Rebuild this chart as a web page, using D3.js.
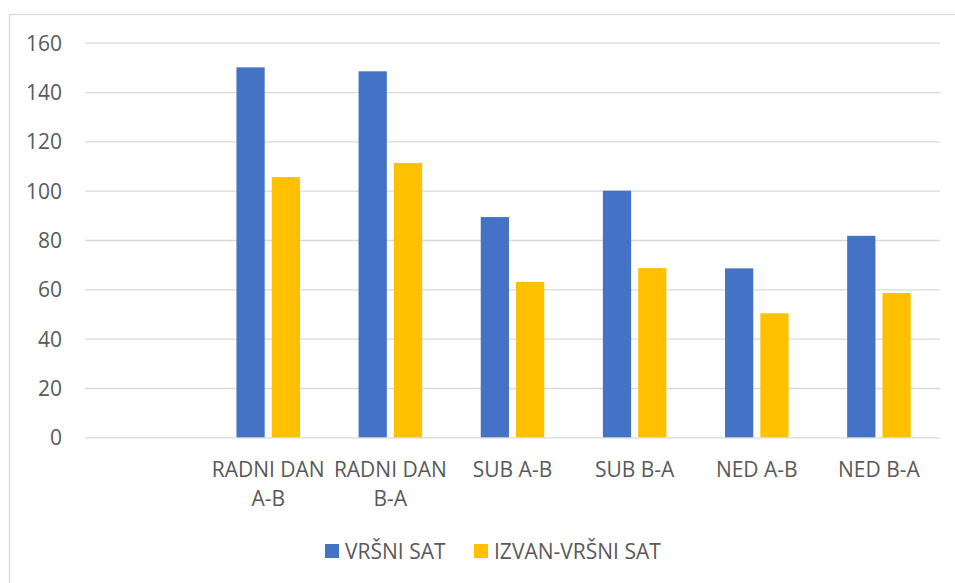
<!DOCTYPE html>
<html>
<head>
<meta charset="utf-8">
<script src="https://cdn.jsdelivr.net/npm/d3@7"></script>
<style>
  html, body { margin: 0; padding: 0; background: #fff; }
  svg { display: block; }
  text { font-family: "Open Sans", "Noto Sans", sans-serif; fill: #595959; }
</style>
</head>
<body>
<script>
// Categories (first slot is intentionally empty, as in the source workbook)
const categories = ["", "RADNI DAN\nA-B", "RADNI DAN\nB-A", "SUB A-B", "SUB B-A", "NED A-B", "NED B-A"];
const seriesNames = ["VRŠNI SAT", "IZVAN-VRŠNI SAT"];
const peakValues    = [null, 150, 148.4, 89.3, 100, 68.5, 81.7];
const offPeakValues = [null, 105.5, 111.2, 63, 68.6, 50.3, 58.5];
const yTicks = [0, 20, 40, 60, 80, 100, 120, 140, 160];
const colors = ["#4472C4", "#FFC000"];

const W = 955, H = 583;
const plot = { left: 85, right: 940, top: 42.7, bottom: 437.3 };
const FS = 21;

const svg = d3.select("body").append("svg").attr("width", W).attr("height", H);

svg.append("rect").attr("width", W).attr("height", H).attr("fill", "#fff");

// chart area outline
svg.append("rect")
  .attr("x", 9.5).attr("y", 14.5)
  .attr("width", 960).attr("height", 600)
  .attr("fill", "none").attr("stroke", "#d9d9d9").attr("stroke-width", 1.2);

const x0 = d3.scaleBand().domain(d3.range(categories.length))
  .range([plot.left, plot.right]).padding(0);
const x1 = d3.scaleBand().domain(d3.range(seriesNames.length))
  .range([0, x0.bandwidth()]).paddingInner(0.2).paddingOuter(0.83);
const y = d3.scaleLinear().domain([0, 160]).range([plot.bottom, plot.top]);

// gridlines and value axis labels
const yAxis = d3.axisLeft(y).tickValues(yTicks).tickSize(-(plot.right - plot.left)).tickPadding(23);
const gY = svg.append("g").attr("transform", `translate(${plot.left},0)`).call(yAxis);
gY.select(".domain").remove();
gY.selectAll(".tick line").attr("stroke", "#d9d9d9").attr("stroke-width", 1.3);
gY.selectAll(".tick text")
  .attr("font-size", FS).attr("fill", "#595959").attr("dy", "0.36em")
  .style("font-family", '"Open Sans", sans-serif');

// bars
const data = categories.map((c, i) => ({ i, vals: [peakValues[i], offPeakValues[i]] }));
const groups = svg.append("g").selectAll("g").data(data).join("g")
  .attr("transform", d => `translate(${x0(d.i)},0)`);
groups.selectAll("rect")
  .data(d => d.vals.map((v, s) => ({ v, s })).filter(e => e.v != null))
  .join("rect")
  .attr("x", e => x1(e.s))
  .attr("width", x1.bandwidth())
  .attr("y", e => y(e.v))
  .attr("height", e => y(0) - y(e.v))
  .attr("fill", e => colors[e.s]);

// category labels
const labels = svg.append("g").selectAll("text").data(categories.map((c, i) => ({ c, i })))
  .join("text")
  .attr("text-anchor", "middle")
  .attr("font-size", FS);
labels.each(function(d) {
  const lines = d.c.split("\n");
  const t = d3.select(this);
  lines.forEach((ln, k) => {
    t.append("tspan")
      .attr("x", x0(d.i) + x0.bandwidth() / 2)
      .attr("y", 477 + k * 28.5)
      .text(ln);
  });
});

// legend
const legend = svg.append("g");
const legendItems = [
  { name: seriesNames[0], color: colors[0], x: 325 },
  { name: seriesNames[1], color: colors[1], x: 474 }
];
legendItems.forEach(it => {
  legend.append("rect").attr("x", it.x).attr("y", 544).attr("width", 14).attr("height", 14).attr("fill", it.color);
  legend.append("text").attr("x", it.x + 20).attr("y", 558.5).attr("font-size", FS).text(it.name);
});
</script>
</body>
</html>
